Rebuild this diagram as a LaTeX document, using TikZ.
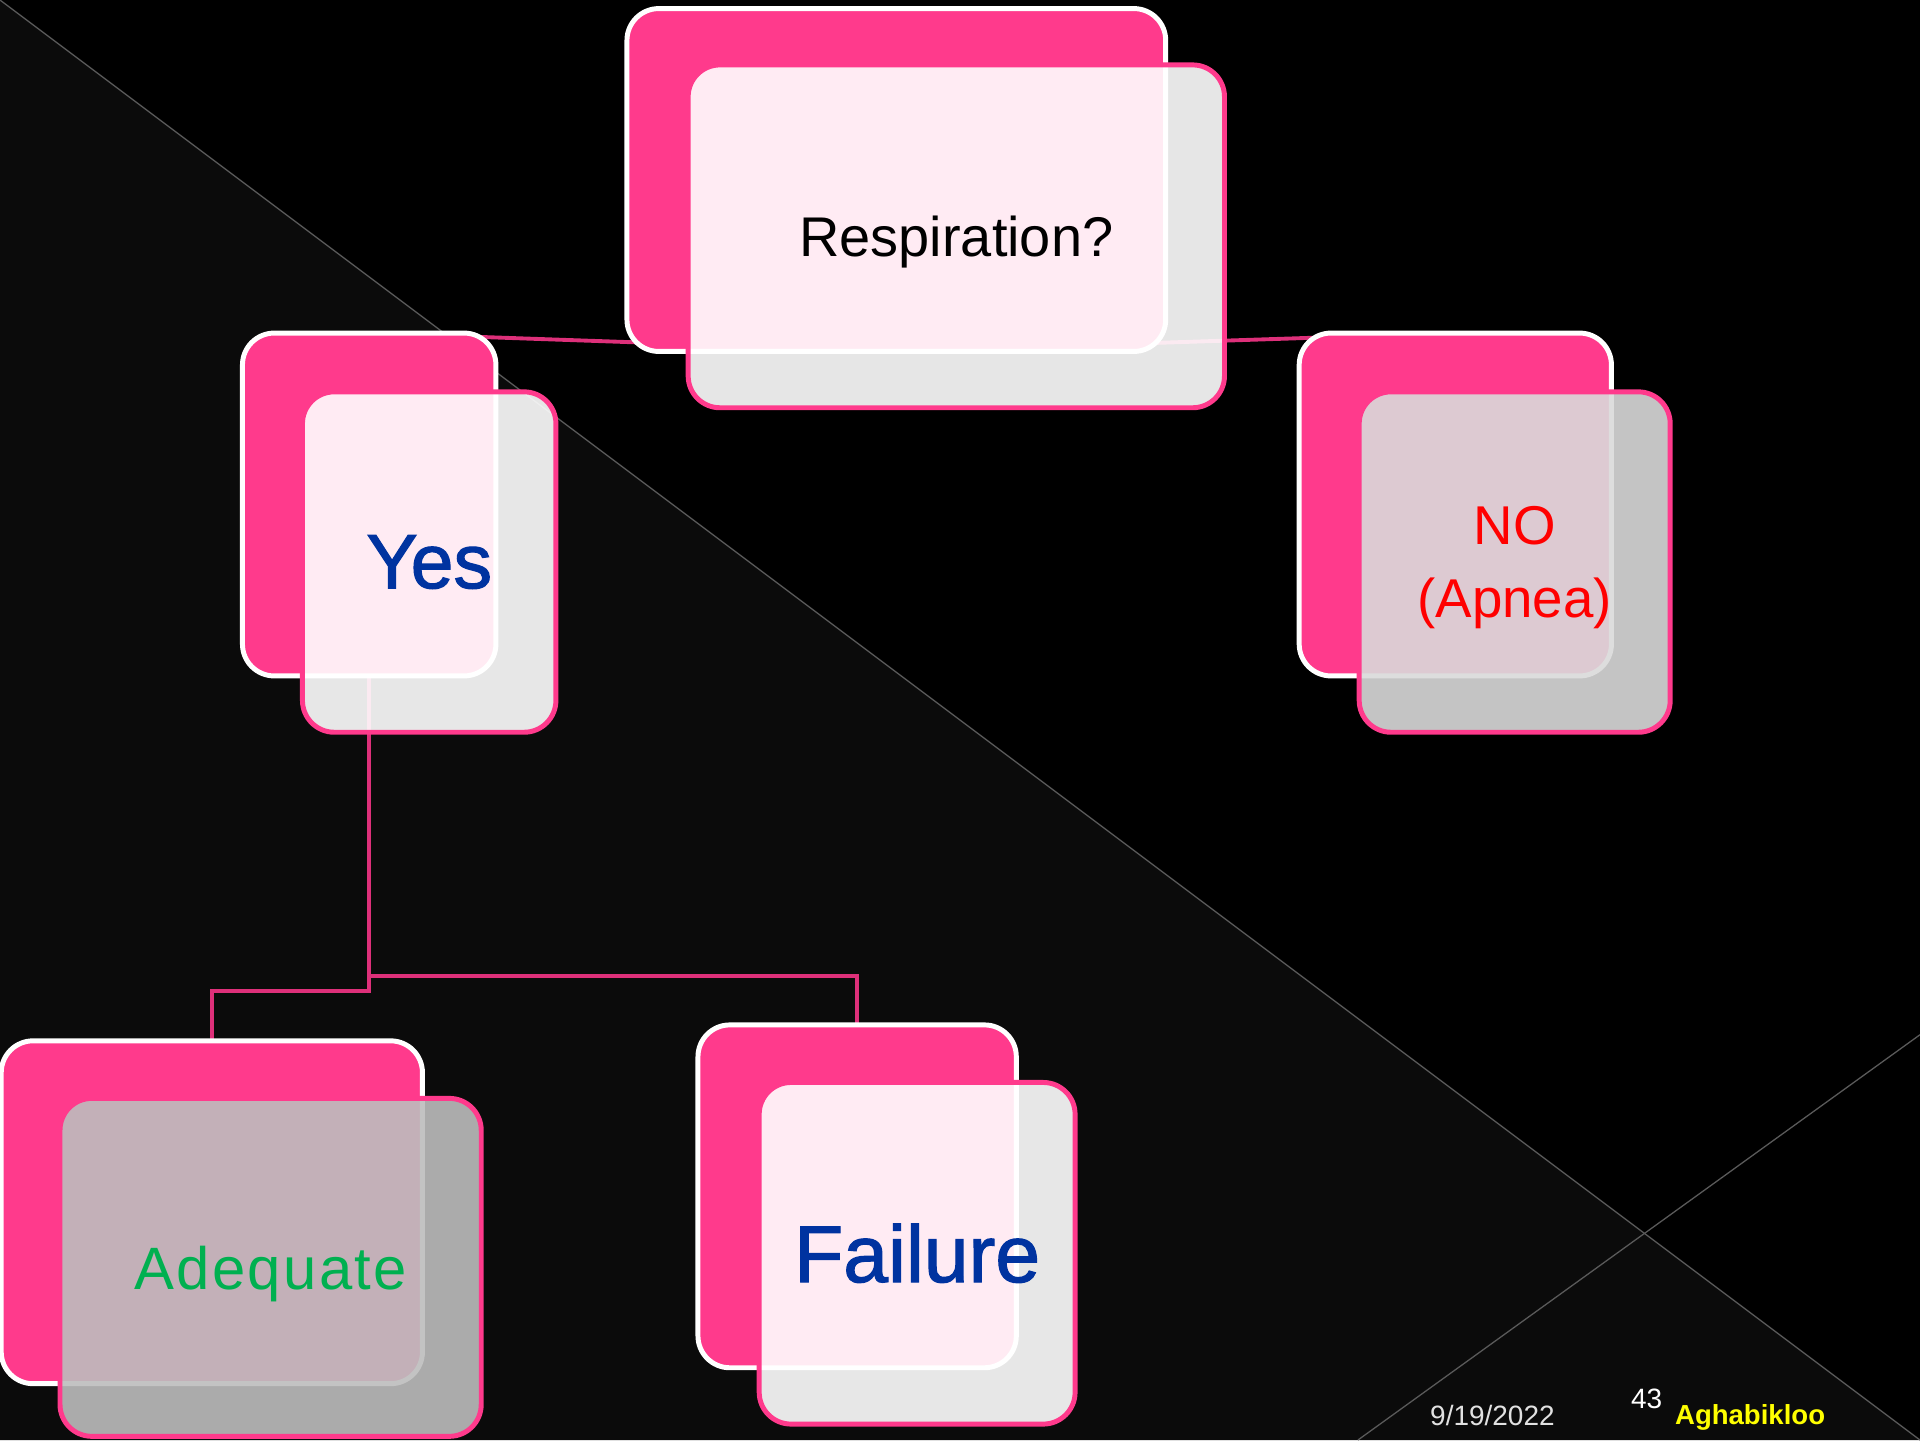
\documentclass[tikz,border=0pt]{standalone}
\usepackage{fontspec}
\setmainfont{Liberation Sans}
\newfontfamily\heavyfont[FakeBold=1.5]{Liberation Sans}
\newfontfamily\spacedfont[LetterSpace=4]{Liberation Sans}
\usetikzlibrary{calc}
\definecolor{pinkfill}{RGB}{255,58,140}
\definecolor{connpink}{RGB}{222,48,122}
\definecolor{bgtri}{RGB}{11,11,11}
\definecolor{diag}{RGB}{90,90,90}
\definecolor{txtblue}{RGB}{0,51,160}
\definecolor{txtgreen}{RGB}{0,176,80}
\definecolor{txtred}{RGB}{255,0,0}
\definecolor{grayA}{RGB}{189,189,189}
\definecolor{grayN}{RGB}{218,218,218}
\definecolor{datecol}{RGB}{225,225,225}
\definecolor{authcol}{RGB}{255,255,0}
\pgfdeclarelayer{bglayer}
\pgfdeclarelayer{connlayer}
\pgfsetlayers{bglayer,connlayer,main}
\tikzset{
  backbox/.style={rectangle, rounded corners=2.6mm, draw=white, line width=1.15pt, fill=pinkfill, inner sep=0pt, outer sep=0pt},
  frontbox/.style={rectangle, rounded corners=2.6mm, draw=pinkfill, line width=1.15pt, fill=white, fill opacity=0.9, text opacity=1, inner sep=0pt, outer sep=0pt, align=center},
  conn/.style={draw=connpink, line width=0.9pt},
  diagline/.style={draw=diag, line width=0.3pt},
  foot/.style={anchor=base west, inner sep=0pt, outer sep=0pt},
}
\begin{document}
\begin{tikzpicture}[x=0.1mm, y=-0.1mm]
\useasboundingbox (0,0) rectangle (1568,1176);
\begin{pgfonlayer}{bglayer}
  \fill[black] (0,0) rectangle (1568,1176);
  \fill[bgtri] (0,0) -- (1568,1176) -- (0,1176) -- cycle;
  \draw[diagline] (0,0) -- (1568,1176);
  \draw[diagline] (1109,1176) -- (1568,845);
\end{pgfonlayer}

% Respiration?
\node[backbox, minimum width=44mm, minimum height=28mm] (respb) at (732,147) {};
\node[frontbox, minimum width=43.8mm, minimum height=28mm, text depth=0pt, text=black, font=\fontsize{13}{15}\selectfont] (respf) at (781,193) {Respiration?};

% Yes
\node[backbox, minimum width=20.7mm, minimum height=28mm] (yesb) at (301.5,412) {};
\node[frontbox, minimum width=20.7mm, minimum height=27.8mm, text=txtblue, font=\heavyfont\fontsize{17.9}{20}\selectfont] (yesf) at (350.5,459) {Yes};

% NO (Apnea)
\node[backbox, minimum width=25.5mm, minimum height=28mm] (nob) at (1188.5,412) {};
\node[frontbox, fill=grayN, minimum width=25.4mm, minimum height=27.8mm, text depth=0pt, text=txtred, font=\fontsize{12.7}{16.8}\selectfont] (nof) at (1237,459) {NO\\(Apnea)};

% Adequate
\node[backbox, minimum width=34.4mm, minimum height=28mm] (adeqb) at (173,990) {};
\node[frontbox, fill=grayA, minimum width=34.4mm, minimum height=27.6mm, text depth=0pt, text=txtgreen, font=\spacedfont\fontsize{13.9}{16}\selectfont] (adeqf) at (221,1035) {Adequate};

% Failure
\node[backbox, minimum width=26mm, minimum height=28mm] (failb) at (700,977) {};
\node[frontbox, minimum width=25.8mm, minimum height=27.9mm, text=txtblue, font=\heavyfont\fontsize{18.7}{21}\selectfont] (failf) at (749,1023.5) {Failure};

% connectors
\coordinate (ja) at (301.5,809);
\coordinate (jf) at (301.5,797);
\begin{pgfonlayer}{connlayer}
  \draw[conn] (respb.south) -- (yesb.north);
  \draw[conn] (respb.south) -- (nob.north);
  \draw[conn] (yesb.south) -- (ja) -| (adeqb.north);
  \draw[conn] (yesb.south) -- (jf) -| (failb.north);
\end{pgfonlayer}

% footer
\node[foot, text=datecol, font=\fontsize{6.5}{8}\selectfont] (date) at (1168,1164) {9/19/2022};
\node[foot, text=white, font=\fontsize{6.5}{8}\selectfont] (num) at (1332,1150) {43};
\node[foot, text=authcol, font=\bfseries\fontsize{6.4}{8}\selectfont] (author) at (1368,1163) {Aghabikloo};
\end{tikzpicture}
\end{document}
